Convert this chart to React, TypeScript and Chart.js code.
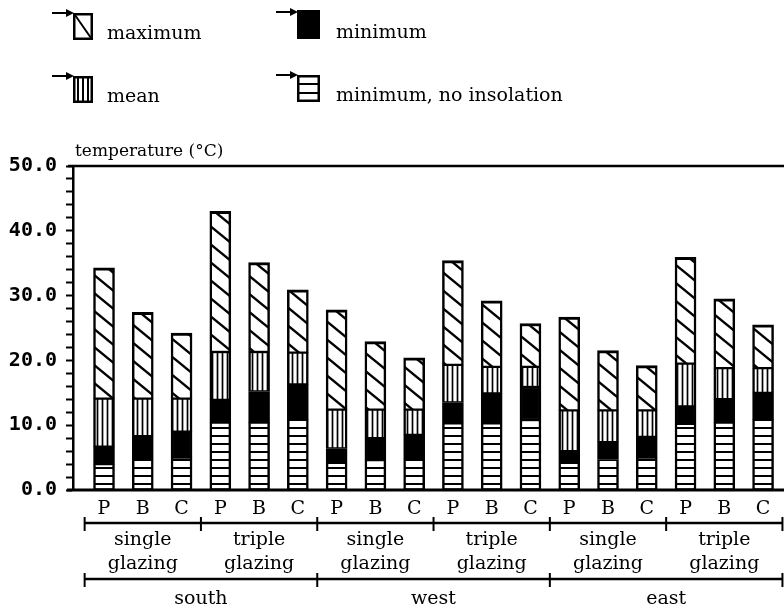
import React, { useEffect, useRef } from "react";
import { Chart, registerables } from "chart.js";

Chart.register(...registerables);

const bars = ["P", "B", "C", "P", "B", "C", "P", "B", "C", "P", "B", "C", "P", "B", "C", "P", "B", "C"];
const glazings = ["single\nglazing", "triple\nglazing", "single\nglazing", "triple\nglazing", "single\nglazing", "triple\nglazing"];
const orientations = ["south", "west", "east"];

const minNoInsolation = [4.0, 4.8, 5.0, 10.4, 10.4, 10.9, 4.2, 4.6, 4.9, 10.3, 10.3, 10.8, 4.2, 4.7, 5.0, 10.2, 10.4, 10.9];
const minimum = [6.7, 8.3, 9.0, 13.9, 15.2, 16.3, 6.4, 8.0, 8.5, 13.5, 14.9, 15.9, 6.0, 7.4, 8.2, 12.9, 14.0, 15.0];
const mean = [14.1, 14.1, 14.1, 21.3, 21.3, 21.2, 12.4, 12.4, 12.4, 19.3, 19.0, 19.0, 12.3, 12.3, 12.3, 19.5, 18.8, 18.8];
const maximum = [34.3, 27.4, 24.2, 43.0, 35.1, 30.9, 27.8, 22.9, 20.4, 35.4, 29.2, 25.7, 26.7, 21.5, 19.2, 35.9, 29.5, 25.5];

const yTicks = [0, 10, 20, 30, 40, 50];
const legendLabels = ["maximum", "minimum", "mean", "minimum, no insolation"];
const yTitle = "temperature (°C)";

const SERIF = "'DejaVu Serif', serif";

function makePattern(kind: string): CanvasPattern | string {
  const c = document.createElement("canvas");
  let w = 8, h = 8;
  if (kind === "diag") { w = 22; h = 18; }
  if (kind === "vert") { w = 5; h = 5; }
  if (kind === "horiz") { w = 8; h = 8; }
  c.width = w; c.height = h;
  const g = c.getContext("2d")!;
  g.fillStyle = "#fff";
  g.fillRect(0, 0, w, h);
  g.strokeStyle = "#000";
  if (kind === "diag") {
    g.lineWidth = 2.4;
    for (let k = -1; k <= 1; k++) {
      g.beginPath();
      g.moveTo(-w, -h + k * h);
      g.lineTo(2 * w, 2 * h + k * h);
      g.stroke();
    }
  } else if (kind === "vert") {
    g.lineWidth = 1.7;
    g.beginPath(); g.moveTo(2.5, 0); g.lineTo(2.5, h); g.stroke();
  } else {
    g.lineWidth = 2;
    g.beginPath(); g.moveTo(0, 4); g.lineTo(w, 4); g.stroke();
  }
  return g.createPattern(c, "repeat") || "#fff";
}

const decorPlugin = {
  id: "decor",
  afterDatasetsDraw(chart: any) {
    const ctx = chart.ctx as CanvasRenderingContext2D;
    const xs = chart.scales.x;
    const ys = chart.scales.y;
    const area = chart.chartArea;
    ctx.save();
    ctx.strokeStyle = "#000";
    ctx.fillStyle = "#000";
    // top frame line and bottom axis line
    ctx.lineWidth = 2.5;
    ctx.beginPath(); ctx.moveTo(area.left - 5, ys.getPixelForValue(50)); ctx.lineTo(area.right, ys.getPixelForValue(50)); ctx.stroke();
    ctx.lineWidth = 3;
    ctx.beginPath(); ctx.moveTo(area.left - 6, ys.getPixelForValue(0)); ctx.lineTo(area.right, ys.getPixelForValue(0)); ctx.stroke();

    // y title
    ctx.font = `17px ${SERIF}`;
    ctx.textAlign = "left";
    ctx.textBaseline = "middle";
    ctx.fillText(yTitle, area.left + 2, 152);

    // bar letters
    ctx.font = `19px ${SERIF}`;
    ctx.textAlign = "center";
    bars.forEach((b, i) => ctx.fillText(b, xs.getPixelForValue(i), 509));

    // bracket lines
    const drawBracket = (y: number, step: number) => {
      ctx.lineWidth = 2.5;
      const x0 = xs.getPixelForValue(-0.5);
      const x1 = xs.getPixelForValue(bars.length - 0.5);
      ctx.beginPath(); ctx.moveTo(x0, y); ctx.lineTo(Math.min(x1, chart.width - 1), y); ctx.stroke();
      ctx.lineWidth = 2;
      for (let k = 0; k <= bars.length; k += step) {
        const x = Math.min(xs.getPixelForValue(k - 0.5), chart.width - 1.5);
        ctx.beginPath(); ctx.moveTo(x, y - 6); ctx.lineTo(x, y + 8); ctx.stroke();
      }
    };
    drawBracket(523, 3);
    drawBracket(579, 6);

    glazings.forEach((g, j) => {
      const cx = xs.getPixelForValue(j * 3 + 1);
      const [l1, l2] = g.split("\n");
      ctx.fillText(l1, cx, 540);
      ctx.fillText(l2, cx, 564);
    });
    orientations.forEach((o, j) => {
      const cx = xs.getPixelForValue(j * 6 + 2.5);
      ctx.fillText(o, cx, 599);
    });

    // legend
    const items = [
      { kind: "diag", bx: 73, by: 13, text: legendLabels[0] },
      { kind: "solid", bx: 297, by: 12, text: legendLabels[1] },
      { kind: "vert", bx: 73, by: 76, text: legendLabels[2] },
      { kind: "horiz", bx: 297, by: 75, text: legendLabels[3] },
    ];
    items.forEach((it) => {
      const bw = it.kind === "diag" || it.kind === "vert" ? 20 : 23;
      const bh = 27;
      const { bx, by } = it;
      // arrow
      ctx.lineWidth = 2;
      ctx.beginPath(); ctx.moveTo(bx - 21, by); ctx.lineTo(bx - 3, by); ctx.stroke();
      ctx.beginPath(); ctx.moveTo(bx + 1, by); ctx.lineTo(bx - 7, by - 4); ctx.lineTo(bx - 7, by + 4); ctx.closePath(); ctx.fill();
      ctx.lineWidth = 2.5;
      if (it.kind === "solid") {
        ctx.fillRect(bx, by - 2, bw, bh + 2);
      } else {
        ctx.strokeRect(bx + 1.25, by + 1.25, bw - 2.5, bh - 2.5);
        ctx.lineWidth = 2;
        if (it.kind === "diag") {
          ctx.beginPath(); ctx.moveTo(bx + 2, by + 2); ctx.lineTo(bx + bw - 2, by + bh - 2); ctx.stroke();
        } else if (it.kind === "vert") {
          for (let k = 1; k <= 3; k++) {
            const x = bx + (bw * k) / 4;
            ctx.beginPath(); ctx.moveTo(x, by + 2); ctx.lineTo(x, by + bh - 2); ctx.stroke();
          }
        } else {
          for (let k = 1; k <= 2; k++) {
            const y = by + (bh * k) / 3;
            ctx.beginPath(); ctx.moveTo(bx + 2, y); ctx.lineTo(bx + bw - 2, y); ctx.stroke();
          }
        }
      }
      ctx.font = `19px ${SERIF}`;
      ctx.textAlign = "left";
      ctx.textBaseline = "alphabetic";
      ctx.fillText(it.text, it.kind === "diag" || it.kind === "vert" ? 107 : 336, by + 26);
    });
    ctx.restore();
  },
};

export default function App() {
  const ref = useRef<HTMLCanvasElement | null>(null);
  useEffect(() => {
    if (!ref.current) return;
    const diag = makePattern("diag");
    const vert = makePattern("vert");
    const horiz = makePattern("horiz");
    const pts = (lo: number[], hi: number[]) => lo.map((v, i) => ({ x: i, y: [v, hi[i]] }));
    const zeros = minNoInsolation.map(() => 0);
    const common = {
      grouped: false,
      barThickness: 21,
      borderColor: "#000",
      borderSkipped: false as const,
    };
    const chart = new Chart(ref.current, {
      type: "bar",
      data: {
        datasets: [
          { label: legendLabels[3], data: pts(zeros, minNoInsolation) as any, backgroundColor: horiz as any, borderWidth: { left: 2.5, right: 2.5, top: 1.5, bottom: 1.5 }, ...common },
          { label: legendLabels[1], data: pts(minNoInsolation, minimum) as any, backgroundColor: "#000", borderWidth: { left: 2.5, right: 2.5, top: 1.5, bottom: 1.5 }, ...common },
          { label: legendLabels[2], data: pts(minimum, mean) as any, backgroundColor: vert as any, borderWidth: { left: 2.5, right: 2.5, top: 1.5, bottom: 1.5 }, ...common },
          { label: legendLabels[0], data: pts(mean, maximum) as any, backgroundColor: diag as any, borderWidth: { left: 2.5, right: 2.5, top: 3, bottom: 1.5 }, ...common },
        ],
      },
      options: {
        animation: false,
        responsive: false,
        layout: { padding: { left: 0, right: 0, top: 166, bottom: 122 } },
        plugins: { legend: { display: false }, tooltip: { enabled: false } },
        scales: {
          x: { type: "linear", min: -0.8, max: 17.54, display: false, offset: false },
          y: {
            min: 0,
            max: 50,
            afterFit: (s: any) => { s.width = 73; },
            ticks: {
              stepSize: 2,
              autoSkip: false,
              padding: 9,
              color: "#000",
              font: { family: "'DejaVu Sans Mono', monospace", weight: "bold", size: 20 },
              callback: (v: any) => (yTicks.includes(Number(v)) ? Number(v).toFixed(1) : ""),
            },
            grid: { drawOnChartArea: false, drawTicks: true, tickLength: 7, tickWidth: 2, tickColor: "#000", color: "#000" },
            border: { display: true, color: "#000", width: 2.5 },
          },
        },
      },
      plugins: [decorPlugin],
    });
    return () => chart.destroy();
  }, []);
  return (
    <div style={{ position: "absolute", left: 0, top: 0, width: 784, height: 612, background: "#fff" }}>
      <canvas ref={ref} width={784} height={612} style={{ display: "block" }} />
    </div>
  );
}
